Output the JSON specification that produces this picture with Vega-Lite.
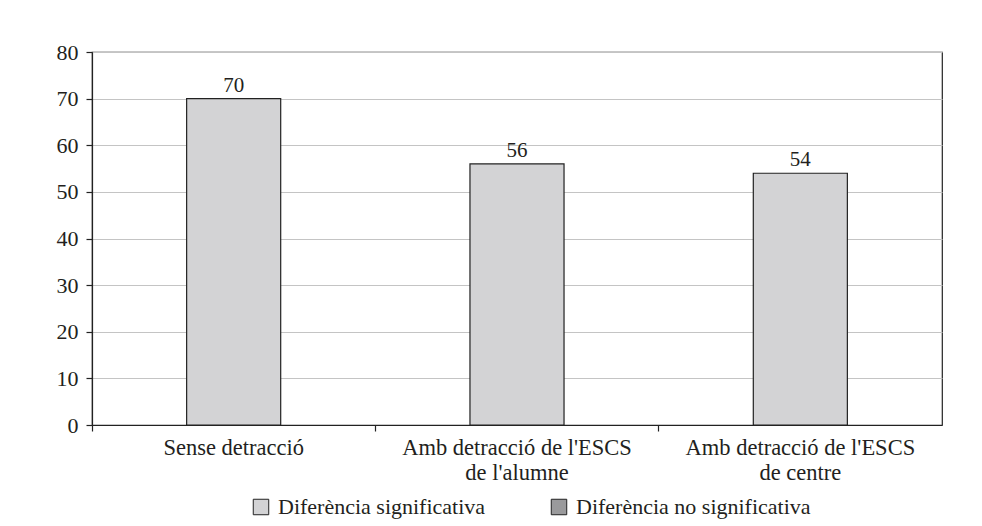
{
  "$schema": "https://vega.github.io/schema/vega-lite/v6.json",
  "autosize": "none",
  "width": 850,
  "height": 373,
  "padding": {"left": 92, "top": 52, "right": 40, "bottom": 101},
  "background": "white",
  "config": {
    "font": "Liberation Serif",
    "view": {"stroke": "#222", "strokeWidth": 1.2},
    "axis": {"labelFont": "Liberation Serif", "labelColor": "#231f20", "domainColor": "#222", "tickColor": "#222", "gridColor": "#c4c4c4", "gridWidth": 1.2},
    "legend": {"labelFont": "Liberation Serif", "labelColor": "#231f20"}
  },
  "data": {
    "values": [
      {"categoria": "Sense detracció", "valor": 70, "significacio": "Diferència significativa"},
      {"categoria": "Amb detracció de l'ESCS de l'alumne", "valor": 56, "significacio": "Diferència significativa"},
      {"categoria": "Amb detracció de l'ESCS de centre", "valor": 54, "significacio": "Diferència significativa"}
    ]
  },
  "encoding": {
    "x": {
      "field": "categoria",
      "type": "nominal",
      "sort": null,
      "scale": {"paddingInner": 0, "paddingOuter": 0},
      "axis": {
        "title": null,
        "labelAngle": 0,
        "labelFontSize": 22.5,
        "labelPadding": 5,
        "labelLineHeight": 25,
        "labelLimit": 0,
        "bandPosition": 0,
        "tickSize": 6,
        "domainWidth": 1.2,
        "tickWidth": 1.2,
        "labelExpr": "datum.label == 'Sense detracció' ? datum.label : [slice(datum.label, 0, 23), slice(datum.label, 24)]"
      }
    },
    "y": {
      "field": "valor",
      "type": "quantitative",
      "scale": {"domain": [0, 80]},
      "axis": {
        "title": null,
        "values": [0, 10, 20, 30, 40, 50, 60, 70, 80],
        "labelFontSize": 22,
        "labelPadding": 8,
        "tickSize": 6,
        "domainWidth": 1.2,
        "tickWidth": 1.2
      }
    }
  },
  "layer": [
    {
      "mark": {"type": "bar", "width": {"band": 0.332}, "stroke": "#222", "strokeWidth": 1.2},
      "encoding": {
        "color": {
          "field": "significacio",
          "type": "nominal",
          "scale": {"domain": ["Diferència significativa", "Diferència no significativa"], "range": ["#d3d3d5", "#9a9a9c"]},
          "legend": {
            "title": null,
            "orient": "none",
            "legendX": 158,
            "legendY": 444,
            "direction": "horizontal",
            "symbolType": "square",
            "symbolSize": 240,
            "symbolStrokeColor": "#222",
            "symbolStrokeWidth": 1,
            "labelFontSize": 22,
            "labelLimit": 0,
            "labelOffset": 6,
            "columnPadding": 62
          }
        }
      }
    },
    {
      "mark": {"type": "text", "dy": -13, "fontSize": 21, "color": "#231f20", "font": "Liberation Serif"},
      "encoding": {"text": {"field": "valor", "type": "quantitative"}}
    }
  ]
}
